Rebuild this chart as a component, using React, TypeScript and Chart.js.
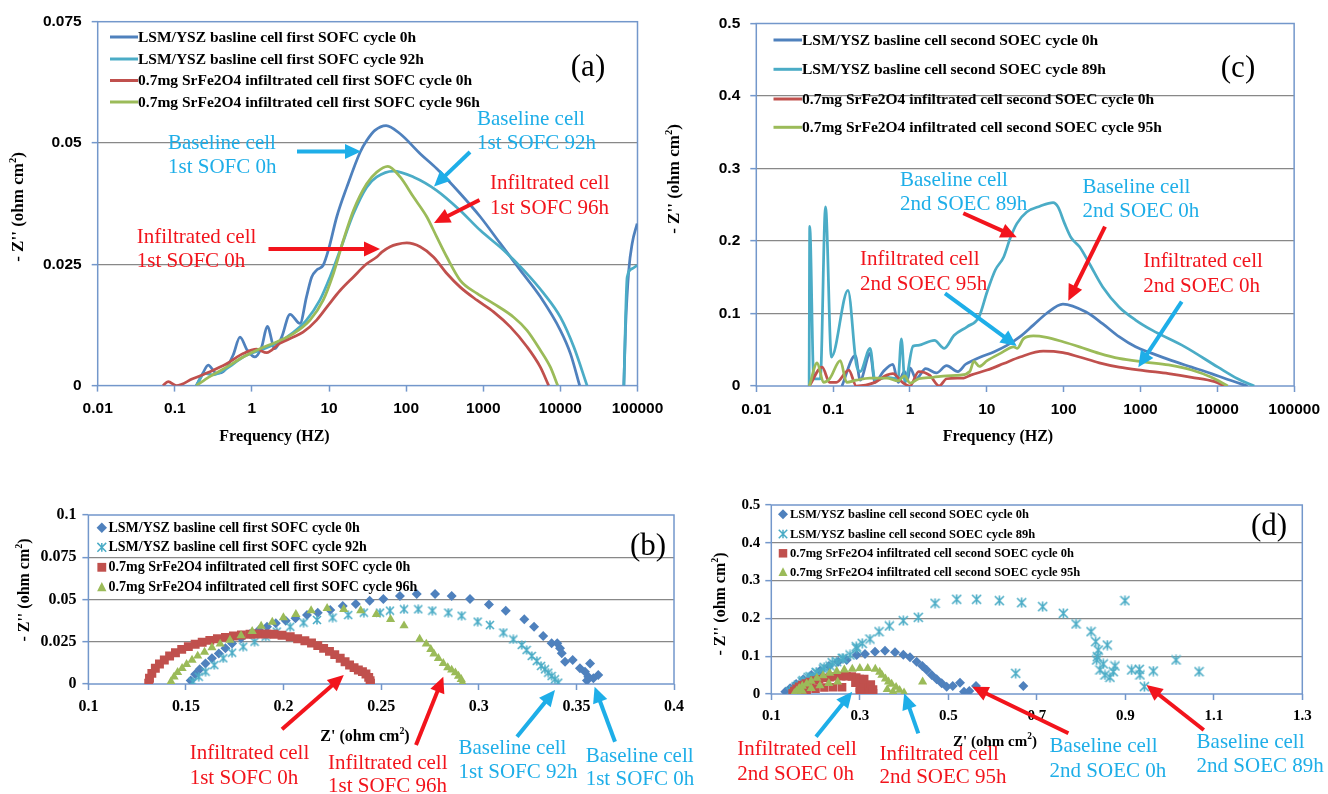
import React, { useEffect, useRef } from 'react';
import { Chart, registerables } from 'chart.js';

Chart.register(...registerables);

const PAGE_W = 1328;
const PAGE_H = 794;

type Pt = [number, number | null];

// ---------------- colours ----------------
const C_BLUE = '#4f81bd';
const C_AQUA = '#4bacc6';
const C_RED = '#c0504d';
const C_GREEN = '#9bbb59';
const SERIES_COLORS = [C_BLUE, C_AQUA, C_RED, C_GREEN];
const ANN_CYAN = '#1eaee8';
const ANN_RED = '#f2141c';
const GRID = '#888888';
const FRAME = '#7397cb';
const SANS = '"Liberation Sans", Arial, sans-serif';
const SERIF = '"Liberation Serif", "Times New Roman", serif';

// ---------------- shared tick data ----------------
const freqTicks = [0.01, 0.1, 1, 10, 100, 1000, 10000, 100000];
const freqTickLabels = ['0.01', '0.1', '1', '10', '100', '1000', '10000', '100000'];

// ---------------- panel (a) ----------------
const aYTicks = [0, 0.025, 0.05, 0.075];
const aYTickLabels = ['0', '0.025', '0.05', '0.075'];
const aLabels = [
  'LSM/YSZ basline cell first SOFC cycle 0h',
  'LSM/YSZ basline cell first SOFC cycle 92h',
  '0.7mg SrFe2O4 infiltrated cell first SOFC cycle 0h',
  '0.7mg SrFe2O4 infiltrated cell first SOFC cycle 96h',
];
const aBase0: Pt[] = [
  [0.19, 0], [0.23, 0.0025], [0.271, 0.0042], [0.347, 0.0025], [0.446, 0.0032], [0.571, 0.0063],
  [0.7, 0.01], [0.87, 0.0073], [1.09, 0.0059], [1.34, 0.008], [1.58, 0.0122], [1.98, 0.0076],
  [2.43, 0.01], [3.12, 0.0147], [4.2, 0.0128], [5.1, 0.0183], [5.96, 0.0224], [6.9, 0.0238],
  [8.4, 0.0248], [9.8, 0.0279], [12.6, 0.0348], [17, 0.0409], [25.3, 0.0481], [30.8, 0.0505],
  [39.3, 0.0526], [55, 0.0536], [83.5, 0.0519], [152, 0.0478], [250, 0.0447], [502, 0.0396],
  [914, 0.0348], [1660, 0.0293], [3020, 0.0238], [5500, 0.0183], [10000, 0.0114], [13500, 0.0066],
  [17800, 0], [40000, null], [66500, 0], [70000, 0.012], [77100, 0.0238], [85300, 0.0293], [99000, 0.0334],
];
const aBase92: Pt[] = [
  [0.19, 0], [0.245, 0.0025], [0.31, 0.0022], [0.47, 0.0035], [0.77, 0.0059], [1.27, 0.0073],
  [2.09, 0.0087], [3.45, 0.011], [5.1, 0.0135], [7.6, 0.0176], [10.3, 0.0224], [13.9, 0.0279],
  [20.7, 0.0354], [30.8, 0.0409], [41.6, 0.043], [68.4, 0.0442], [124, 0.043], [250, 0.0402],
  [502, 0.0361], [914, 0.032], [1840, 0.0279], [3340, 0.0238], [6080, 0.019], [10000, 0.0141],
  [14900, 0.008], [22200, 0], [40000, null], [66500, 0], [73500, 0.0224], [85300, 0.0241], [99000, 0.0248],
];
const aInf0: Pt[] = [
  [0.07, 0], [0.082, 0.0008], [0.105, 0], [0.17, 0.0014], [0.28, 0.0028], [0.47, 0.0045],
  [0.77, 0.0066], [1.15, 0.0075], [1.55, 0.0068], [2.3, 0.0087], [3.45, 0.01], [4.6, 0.011],
  [6.9, 0.0135], [9.8, 0.0166], [13.9, 0.0196], [20.7, 0.0224], [30.8, 0.0251], [41.6, 0.0265],
  [48.3, 0.0275], [62, 0.0286], [75.7, 0.0291], [102, 0.0294], [152, 0.0286], [226, 0.0265],
  [337, 0.0231], [502, 0.0203], [828, 0.0176], [1360, 0.0152], [2240, 0.0121], [3690, 0.008],
  [5500, 0.0038], [7050, 0],
];
const aInf96: Pt[] = [
  [0.19, 0], [0.28, 0.0018], [0.47, 0.0038], [0.77, 0.0059], [1.27, 0.0076], [2.09, 0.009],
  [3.45, 0.0107], [5.66, 0.0135], [8.4, 0.0176], [11.4, 0.0231], [15.3, 0.0299], [20.7, 0.0361],
  [30.8, 0.0416], [41.6, 0.044], [57.8, 0.0452], [83.5, 0.043], [124, 0.0389], [185, 0.0348],
  [250, 0.0306], [337, 0.0265], [502, 0.0217], [828, 0.019], [1360, 0.0169], [2480, 0.0141],
  [3690, 0.0114], [5500, 0.0073], [7420, 0.0038], [9230, 0],
];

// ---------------- panel (c) ----------------
const cYTicks = [0, 0.1, 0.2, 0.3, 0.4, 0.5];
const cYTickLabels = ['0', '0.1', '0.2', '0.3', '0.4', '0.5'];
const cLabels = [
  'LSM/YSZ basline cell second SOEC cycle 0h',
  'LSM/YSZ basline cell second SOEC cycle 89h',
  '0.7mg SrFe2O4 infiltrated cell second SOEC cycle 0h',
  '0.7mg SrFe2O4 infiltrated cell second SOEC cycle 95h',
];
const cBase0: Pt[] = [
  [0.13, 0], [0.194, 0.042], [0.225, 0.008], [0.303, 0.045], [0.35, 0.005], [0.45, 0.02],
  [0.6, 0.03], [0.7, 0.005], [0.85, 0.02], [0.94, 0.01], [1.0, 0.025], [1.2, 0.01], [1.6, 0.024],
  [2.2, 0.018], [3.0, 0.028], [4.2, 0.02], [5.3, 0.03], [6.5, 0.035], [8.3, 0.04], [12.3, 0.047],
  [18.3, 0.056], [27.1, 0.068], [40.3, 0.084], [59.8, 0.1], [98, 0.113], [196, 0.102], [321, 0.086],
  [526, 0.068], [863, 0.054], [1414, 0.045], [2560, 0.035], [4630, 0.026], [8370, 0.017],
  [13700, 0.009], [24800, 0],
];
const cBase89: Pt[] = [
  [0.0487, 0], [0.0496, 0.22], [0.056, 0.01], [0.068, 0.01], [0.0796, 0.247], [0.095, 0.04],
  [0.156, 0.132], [0.2, 0.03], [0.225, 0.02], [0.303, 0.052], [0.35, 0.008], [0.5, 0.012],
  [0.7, 0.01], [0.773, 0.065], [0.86, 0.005], [1.1, 0.055], [1.27, 0.056], [2.08, 0.063],
  [2.79, 0.052], [3.76, 0.07], [5.58, 0.082], [7.89, 0.095], [10.1, 0.13], [12.9, 0.16],
  [16.6, 0.178], [20.2, 0.204], [24.6, 0.224], [33.1, 0.24], [49.1, 0.248], [72.9, 0.253],
  [84.5, 0.247], [103, 0.224], [126, 0.204], [161, 0.192], [216, 0.169], [321, 0.137],
  [526, 0.109], [863, 0.091], [1414, 0.077], [3790, 0.054], [10200, 0.026], [18400, 0.01], [30300, 0],
];
const cInf0: Pt[] = [
  [0.049, 0], [0.072, 0.026], [0.09, 0.005], [0.11, 0.005], [0.16, 0.022], [0.2, 0], [0.35, 0.005],
  [0.5, 0.015], [0.6, 0.017], [0.8, 0.005], [1.0, 0], [1.3, 0.02], [1.8, 0.015], [2.4, 0],
  [3, 0.01], [5, 0.011], [6.16, 0.015], [10.1, 0.022], [16.6, 0.031], [27.1, 0.04], [54.2, 0.048],
  [98, 0.046], [161, 0.04], [291, 0.032], [526, 0.026], [1160, 0.021], [2320, 0.017], [4630, 0.012],
  [9250, 0.006], [12400, 0],
];
const cInf95: Pt[] = [
  [0.049, 0], [0.062, 0.032], [0.075, 0.005], [0.09, 0.01], [0.124, 0.035], [0.15, 0.005],
  [0.2, 0.008], [0.3, 0.011], [0.5, 0.011], [0.7, 0.007], [0.85, 0.014], [1.0, 0.004], [1.3, 0.01],
  [2, 0.012], [3, 0.014], [4.5, 0.015], [6, 0.02], [6.8, 0.034], [8, 0.027], [10.1, 0.035],
  [15, 0.045], [22.4, 0.054], [25, 0.052], [29.9, 0.065], [40.3, 0.069], [59.8, 0.067], [98, 0.061],
  [161, 0.054], [291, 0.045], [526, 0.038], [1160, 0.033], [2320, 0.029], [4630, 0.022],
  [8370, 0.012], [13700, 0],
];

// ---------------- panel (b) ----------------
const bXTicks = [0.1, 0.15, 0.2, 0.25, 0.3, 0.35, 0.4];
const bXTickLabels = ['0.1', '0.15', '0.2', '0.25', '0.3', '0.35', '0.4'];
const bYTicks = [0, 0.025, 0.05, 0.075, 0.1];
const bYTickLabels = ['0', '0.025', '0.05', '0.075', '0.1'];
const bBase0: Pt[] = [
  [0.1524, 0.002], [0.1547, 0.0057], [0.157, 0.0087], [0.16, 0.0122], [0.1633, 0.0152], [0.1668, 0.0181],
  [0.1702, 0.0211], [0.1736, 0.024], [0.1782, 0.027], [0.1828, 0.0296], [0.1874, 0.032], [0.1915, 0.0339],
  [0.196, 0.0359], [0.2011, 0.0375], [0.2061, 0.0389], [0.212, 0.0408], [0.2175, 0.0422], [0.2239, 0.0438],
  [0.2303, 0.0462], [0.237, 0.0473], [0.2441, 0.0493], [0.2511, 0.0503], [0.2596, 0.0521], [0.2682, 0.0533],
  [0.2776, 0.0533], [0.2861, 0.0521], [0.2955, 0.0503], [0.3052, 0.0471], [0.3138, 0.0434], [0.3233, 0.0383],
  [0.3283, 0.0339], [0.333, 0.0284], [0.3373, 0.0241], [0.3402, 0.0241], [0.3416, 0.0211], [0.3425, 0.0182],
  [0.3442, 0.0132], [0.3481, 0.0142], [0.3518, 0.0093], [0.3544, 0.0073], [0.357, 0.0122], [0.3587, 0.0034],
  [0.3612, 0.0053], [0.3561, 0.0043], [0.3554, 0.002],
];
const bBase92: Pt[] = [
  [0.1535, 0.0014], [0.1565, 0.0043], [0.16, 0.0073], [0.1645, 0.0112], [0.1691, 0.0152], [0.1736, 0.0185],
  [0.1793, 0.0221], [0.1851, 0.025], [0.1908, 0.028], [0.1965, 0.031], [0.2034, 0.0339], [0.2102, 0.0363],
  [0.2171, 0.0379], [0.2251, 0.0393], [0.2331, 0.0408], [0.2411, 0.0422], [0.2494, 0.0422], [0.2545, 0.0434],
  [0.2617, 0.0442], [0.269, 0.0442], [0.2762, 0.0434], [0.2844, 0.0422], [0.2912, 0.0404], [0.2994, 0.0369],
  [0.3057, 0.0349], [0.3126, 0.0304], [0.3177, 0.0264], [0.322, 0.0231], [0.3245, 0.0201], [0.3271, 0.0166],
  [0.3297, 0.0136], [0.3319, 0.0107], [0.3339, 0.0087], [0.3356, 0.0067], [0.3373, 0.0047], [0.339, 0.0028],
  [0.3407, 0.0008],
];
const bInf0: Pt[] = [
  [0.1309, 0.0004], [0.1313, 0.0034], [0.1325, 0.0063], [0.1343, 0.0093], [0.1364, 0.0118], [0.1389, 0.0142],
  [0.1416, 0.0166], [0.1446, 0.0185], [0.1478, 0.0205], [0.1512, 0.0221], [0.1547, 0.0235], [0.1583, 0.0247],
  [0.1622, 0.0258], [0.1661, 0.0268], [0.1702, 0.0276], [0.1743, 0.0284], [0.1784, 0.029], [0.1828, 0.0294],
  [0.1869, 0.0296], [0.191, 0.0296], [0.1951, 0.0294], [0.1992, 0.0288], [0.2034, 0.028], [0.2072, 0.0268],
  [0.2109, 0.0256], [0.2143, 0.0243], [0.2175, 0.0227], [0.2205, 0.0211], [0.2235, 0.0193], [0.2262, 0.0174],
  [0.229, 0.0152], [0.2315, 0.0132], [0.2338, 0.0112], [0.2361, 0.0097], [0.2383, 0.0083], [0.2404, 0.0073],
  [0.2422, 0.0059], [0.2436, 0.0039], [0.2443, 0.002], [0.2445, 0.0004],
];
const bInf96: Pt[] = [
  [0.1423, 0.0014], [0.1439, 0.0043], [0.1457, 0.0069], [0.148, 0.0093], [0.1503, 0.0116], [0.1531, 0.0142],
  [0.156, 0.0166], [0.1595, 0.0189], [0.1633, 0.0215], [0.1675, 0.0237], [0.1725, 0.026], [0.1782, 0.0286],
  [0.1839, 0.0312], [0.1885, 0.0343], [0.1942, 0.0367], [0.1999, 0.0393], [0.2063, 0.0412], [0.2141, 0.0434],
  [0.2223, 0.0448], [0.2308, 0.0442], [0.2395, 0.0434], [0.2475, 0.0412], [0.2548, 0.0383], [0.2617, 0.0345],
  [0.2697, 0.0266], [0.2731, 0.0237], [0.2754, 0.0205], [0.277, 0.0178], [0.2793, 0.0152], [0.2818, 0.0122],
  [0.2841, 0.0097], [0.2861, 0.0083], [0.288, 0.0067], [0.2896, 0.0047], [0.291, 0.0028], [0.2916, 0.0008],
];

// ---------------- panel (d) ----------------
const dXTicks = [0.1, 0.3, 0.5, 0.7, 0.9, 1.1, 1.3];
const dXTickLabels = ['0.1', '0.3', '0.5', '0.7', '0.9', '1.1', '1.3'];
const dYTicks = [0, 0.1, 0.2, 0.3, 0.4, 0.5];
const dYTickLabels = ['0', '0.1', '0.2', '0.3', '0.4', '0.5'];
const dBase0: Pt[] = [
  [0.1317, 0.0062], [0.1425, 0.015], [0.1561, 0.0265], [0.1724, 0.0388], [0.1905, 0.0503], [0.2104, 0.0617],
  [0.2303, 0.0741], [0.2511, 0.0855], [0.2704, 0.09], [0.293, 0.1032], [0.3117, 0.1058], [0.3343, 0.1119],
  [0.357, 0.1146], [0.3795, 0.1102], [0.3983, 0.104], [0.4134, 0.097], [0.4286, 0.0855], [0.4413, 0.0741],
  [0.4512, 0.0635], [0.4625, 0.0503], [0.4738, 0.0388], [0.4851, 0.0282], [0.4964, 0.0194], [0.51, 0.0212],
  [0.5264, 0.03], [0.5355, 0.0062], [0.5475, 0.008], [0.5626, 0.0212], [0.6695, 0.0212],
];
const dBase89: Pt[] = [
  [0.1425, 0.0062], [0.1497, 0.0106], [0.1561, 0.0194], [0.161, 0.0238], [0.1697, 0.0326], [0.1723, 0.0353],
  [0.1833, 0.0441], [0.1875, 0.0459], [0.2014, 0.0564], [0.2026, 0.0564], [0.2175, 0.0661], [0.2195, 0.0705],
  [0.2327, 0.0741], [0.2376, 0.0829], [0.2478, 0.0855], [0.2602, 0.0944], [0.2627, 0.0944], [0.2779, 0.1032],
  [0.2919, 0.1252], [0.293, 0.1208], [0.3054, 0.134], [0.323, 0.1455], [0.3434, 0.1648], [0.3667, 0.1799],
  [0.3983, 0.194], [0.4322, 0.2028], [0.47, 0.24], [0.519, 0.2505], [0.564, 0.2505], [0.6153, 0.2469],
  [0.6658, 0.2416], [0.7133, 0.231], [0.76, 0.2134], [0.7886, 0.1852], [0.8225, 0.1648], [0.8331, 0.1384],
  [0.839, 0.1164], [0.8593, 0.1296], [0.8367, 0.0987], [0.8353, 0.09], [0.8428, 0.0635], [0.8503, 0.0794],
  [0.8541, 0.0503], [0.8654, 0.0441], [0.8729, 0.059], [0.8767, 0.0741], [0.8993, 0.2469], [0.9144, 0.0635],
  [0.9316, 0.0653], [0.9332, 0.0503], [0.943, 0.0194], [0.9633, 0.0608], [1.0146, 0.09], [1.0666, 0.059],
  [0.6523, 0.0547],
];
const dInf0: Pt[] = [
  [0.148, 0.002], [0.152, 0.008], [0.157, 0.014], [0.163, 0.019], [0.17, 0.024], [0.178, 0.028], [0.187, 0.032],
  [0.197, 0.036], [0.208, 0.039], [0.22, 0.042], [0.232, 0.044], [0.245, 0.046], [0.258, 0.047], [0.27, 0.047],
  [0.282, 0.046], [0.292, 0.044], [0.3, 0.04], [0.305, 0.034], [0.308, 0.028], [0.31, 0.022], [0.312, 0.016],
  [0.315, 0.01], [0.318, 0.005], [0.322, 0.001], [0.3, 0.015], [0.3, 0.005], [0.31, 0.04], [0.325, 0.025],
  [0.33, 0.012], [0.33, 0.002], [0.29, 0.03], [0.165, 0.006], [0.18, 0.01], [0.2, 0.014], [0.22, 0.017],
  [0.24, 0.018], [0.26, 0.018],
];
const dInf95: Pt[] = [
  [0.152, 0.002], [0.157, 0.008], [0.163, 0.015], [0.17, 0.021], [0.18, 0.027], [0.19, 0.034], [0.203, 0.042],
  [0.217, 0.049], [0.232, 0.055], [0.248, 0.06], [0.265, 0.064], [0.283, 0.066], [0.3, 0.068], [0.318, 0.068],
  [0.335, 0.066], [0.345, 0.058], [0.35, 0.05], [0.358, 0.04], [0.365, 0.032], [0.372, 0.026], [0.382, 0.018],
  [0.39, 0.01], [0.4, 0.003], [0.362, 0.012], [0.375, 0.006], [0.442, 0.032], [0.17, 0.008], [0.19, 0.015],
  [0.21, 0.022], [0.23, 0.028], [0.25, 0.032],
];

// ---------------- helpers ----------------
type Note = { lines: string[]; x: number; ys: number[]; color: string; arrow: number[]; arrowColor: string };
type RichPart = [string, boolean];
type Decor = {
  legend: { kind: 'line' | 'marker'; x0: number; x1: number; tx: number; ys: number[]; size: number; styles?: string[]; msize?: number };
  tag: { text: string; x: number; y: number };
  xTitle: { parts: RichPart[]; x: number; y: number; size: number };
  yTitle: { parts: RichPart[]; x: number; y: number; size: number };
  notes: Note[];
};

function drawArrow(ctx: CanvasRenderingContext2D, a: number[], color: string) {
  const [x1, y1, x2, y2] = a;
  const ang = Math.atan2(y2 - y1, x2 - x1);
  const hl = 16;
  const hw = 7.5;
  const bx = x2 - hl * Math.cos(ang);
  const by = y2 - hl * Math.sin(ang);
  ctx.strokeStyle = color;
  ctx.fillStyle = color;
  ctx.lineWidth = 4;
  ctx.beginPath();
  ctx.moveTo(x1, y1);
  ctx.lineTo(bx + Math.cos(ang), by + Math.sin(ang));
  ctx.stroke();
  ctx.beginPath();
  ctx.moveTo(x2, y2);
  ctx.lineTo(bx + hw * Math.sin(ang), by - hw * Math.cos(ang));
  ctx.lineTo(bx - hw * Math.sin(ang), by + hw * Math.cos(ang));
  ctx.closePath();
  ctx.fill();
}

function drawRich(ctx: CanvasRenderingContext2D, parts: RichPart[], x: number, y: number, size: number) {
  const widths: number[] = [];
  let total = 0;
  parts.forEach(([t, sup]) => {
    ctx.font = `bold ${sup ? size * 0.62 : size}px ${SERIF}`;
    const w = ctx.measureText(t).width;
    widths.push(w);
    total += w;
  });
  let cx = x - total / 2;
  ctx.textAlign = 'left';
  ctx.textBaseline = 'middle';
  parts.forEach(([t, sup], i) => {
    ctx.font = `bold ${sup ? size * 0.62 : size}px ${SERIF}`;
    ctx.fillText(t, cx, sup ? y - size * 0.33 : y);
    cx += widths[i];
  });
}

function drawMarker(ctx: CanvasRenderingContext2D, kind: string, x: number, y: number, r: number, color: string) {
  ctx.fillStyle = color;
  ctx.strokeStyle = color;
  ctx.beginPath();
  if (kind === 'diamond') {
    ctx.moveTo(x - r, y); ctx.lineTo(x, y - r); ctx.lineTo(x + r, y); ctx.lineTo(x, y + r); ctx.closePath(); ctx.fill();
  } else if (kind === 'square') {
    ctx.rect(x - r * 0.85, y - r * 0.85, 1.7 * r, 1.7 * r); ctx.fill();
  } else if (kind === 'triangle') {
    ctx.moveTo(x, y - r); ctx.lineTo(x + r * 0.9, y + r * 0.75); ctx.lineTo(x - r * 0.9, y + r * 0.75); ctx.closePath(); ctx.fill();
  } else {
    ctx.lineWidth = 1.5;
    const s = r * 0.85;
    ctx.moveTo(x - s, y - s); ctx.lineTo(x + s, y + s);
    ctx.moveTo(x + s, y - s); ctx.lineTo(x - s, y + s);
    ctx.moveTo(x, y - s); ctx.lineTo(x, y + s);
    ctx.stroke();
  }
}

function makeStar(size: number, color: string) {
  const c = document.createElement('canvas');
  c.width = size;
  c.height = size;
  const g = c.getContext('2d')!;
  g.strokeStyle = color;
  g.lineWidth = 1.6;
  g.beginPath();
  g.moveTo(1, 1); g.lineTo(size - 1, size - 1);
  g.moveTo(size - 1, 1); g.lineTo(1, size - 1);
  g.moveTo(size / 2, 0.5); g.lineTo(size / 2, size - 0.5);
  g.stroke();
  return c;
}

function decorPlugin(d: Decor) {
  return {
    id: 'decor',
    beforeDatasetsDraw(chart: any) {
      const { ctx, chartArea: a } = chart;
      ctx.save();
      ctx.strokeStyle = FRAME;
      ctx.lineWidth = 1.5;
      ctx.strokeRect(a.left, a.top, a.right - a.left, a.bottom - a.top);
      ctx.restore();
    },
    afterDatasetsDraw(chart: any) {
      const ctx: CanvasRenderingContext2D = chart.ctx;
      ctx.save();
      const lg = d.legend;
      chart.data.datasets.forEach((ds: any, i: number) => {
        const y = lg.ys[i];
        if (lg.kind === 'line') {
          ctx.strokeStyle = SERIES_COLORS[i];
          ctx.lineWidth = 3;
          ctx.beginPath();
          ctx.moveTo(lg.x0, y);
          ctx.lineTo(lg.x1, y);
          ctx.stroke();
        } else {
          drawMarker(ctx, lg.styles![i], lg.x0, y, lg.msize!, SERIES_COLORS[i]);
        }
        ctx.fillStyle = '#000';
        ctx.font = `bold ${lg.size}px ${SERIF}`;
        ctx.textAlign = 'left';
        ctx.textBaseline = 'middle';
        ctx.fillText(ds.label, lg.tx, y + 0.5);
      });
      // panel tag
      ctx.fillStyle = '#000';
      ctx.font = `31px ${SERIF}`;
      ctx.textAlign = 'center';
      ctx.textBaseline = 'middle';
      ctx.fillText(d.tag.text, d.tag.x, d.tag.y);
      // axis titles
      ctx.fillStyle = '#000';
      drawRich(ctx, d.xTitle.parts, d.xTitle.x, d.xTitle.y, d.xTitle.size);
      ctx.save();
      ctx.translate(d.yTitle.x, d.yTitle.y);
      ctx.rotate(-Math.PI / 2);
      drawRich(ctx, d.yTitle.parts, 0, 0, d.yTitle.size);
      ctx.restore();
      // annotations
      d.notes.forEach((n) => {
        ctx.fillStyle = n.color;
        ctx.font = `21px ${SERIF}`;
        ctx.textAlign = 'left';
        ctx.textBaseline = 'middle';
        n.lines.forEach((t, k) => ctx.fillText(t, n.x, n.ys[k]));
        drawArrow(ctx, n.arrow, n.arrowColor);
      });
      ctx.restore();
    },
  };
}

const Y_TITLE: RichPart[] = [["- Z'' (ohm cm", false], ['2', true], [')', false]];
const X_TITLE_Z: RichPart[] = [["Z' (ohm cm", false], ['2', true], [')', false]];
const X_TITLE_F: RichPart[] = [['Frequency (HZ)', false]];

type Area = { L: number; T: number; R: number; B: number };

function scalesFor(area: Area, opts: any) {
  const yW = 60;
  const xT = opts.xTicks as number[];
  const xL = opts.xLabels as string[];
  const yT = opts.yTicks as number[];
  const yL = opts.yLabels as string[];
  const yMax = yT[yT.length - 1];
  const tickFont = { family: opts.tickFamily, size: opts.tickSize, weight: 'bold' as const };
  return {
    layout: { padding: { left: area.L - yW, top: area.T, right: PAGE_W - area.R, bottom: 0 } },
    scales: {
      x: {
        type: opts.xType,
        min: xT[0],
        max: xT[xT.length - 1],
        afterBuildTicks: (s: any) => { s.ticks = xT.map((v) => ({ value: v })); },
        afterFit: (s: any) => { s.height = PAGE_H - area.B; },
        ticks: {
          autoSkip: false, maxRotation: 0, minRotation: 0, color: '#000', font: tickFont,
          padding: opts.xPad,
          callback: (_v: any, i: number) => xL[i],
        },
        grid: { drawOnChartArea: false, drawTicks: true, tickLength: 6, tickColor: FRAME, tickWidth: 1.5 },
        border: { display: false },
      },
      y: {
        type: 'linear',
        min: 0,
        max: yMax,
        afterBuildTicks: (s: any) => { s.ticks = yT.map((v) => ({ value: v })); },
        afterFit: (s: any) => { s.width = yW; },
        ticks: { color: '#000', font: tickFont, padding: opts.yPad, callback: (_v: any, i: number) => yL[i] },
        grid: {
          color: (c: any) => (c.tick && c.tick.value > 0 && c.tick.value < yMax - 1e-9 ? GRID : 'rgba(0,0,0,0)'),
          lineWidth: 1.3,
          drawTicks: true,
          tickLength: 6,
          tickColor: FRAME,
          tickWidth: 1.5,
        },
        border: { display: false },
      },
    },
  };
}

function lineConfig(area: Area, labels: string[], series: Pt[][], axis: any, decor: Decor) {
  const sc = scalesFor(area, axis);
  return {
    type: 'line',
    data: {
      datasets: series.map((s, i) => ({
        label: labels[i],
        data: s.map(([x, y]) => ({ x, y })),
        borderColor: SERIES_COLORS[i],
        backgroundColor: SERIES_COLORS[i],
        borderWidth: 2.75,
        pointRadius: 0,
        pointHoverRadius: 0,
        fill: false,
        cubicInterpolationMode: 'monotone',
        spanGaps: false,
        order: 3 - i,
      })),
    },
    options: {
      responsive: false,
      animation: false,
      devicePixelRatio: 1,
      events: [],
      layout: sc.layout,
      plugins: { legend: { display: false }, tooltip: { enabled: false }, title: { display: false } },
      scales: sc.scales,
    },
    plugins: [decorPlugin(decor)],
  };
}

function scatterConfig(area: Area, labels: string[], series: Pt[][], styles: any[], radii: number[], axis: any, decor: Decor) {
  const sc = scalesFor(area, axis);
  return {
    type: 'scatter',
    data: {
      datasets: series.map((s, i) => ({
        label: labels[i],
        data: s.map(([x, y]) => ({ x, y })),
        backgroundColor: SERIES_COLORS[i],
        borderColor: SERIES_COLORS[i],
        borderWidth: 0,
        pointStyle: styles[i],
        pointRadius: radii[i],
        pointHoverRadius: radii[i],
        order: 3 - i,
      })),
    },
    options: {
      responsive: false,
      animation: false,
      devicePixelRatio: 1,
      events: [],
      layout: sc.layout,
      plugins: { legend: { display: false }, tooltip: { enabled: false }, title: { display: false } },
      scales: sc.scales,
    },
    plugins: [decorPlugin(decor)],
  };
}

function buildConfigs() {
  const decorA: Decor = {
    legend: { kind: 'line', x0: 110, x1: 138, tx: 138, ys: [37, 59, 80.5, 102], size: 15.5 },
    tag: { text: '(a)', x: 588, y: 68 },
    xTitle: { parts: X_TITLE_F, x: 274.5, y: 437, size: 16 },
    yTitle: { parts: Y_TITLE, x: 19, y: 207, size: 17 },
    notes: [
      { lines: ['Baseline cell', '1st SOFC 0h'], x: 168, ys: [143, 167], color: ANN_CYAN, arrow: [297, 151.5, 361, 151.5], arrowColor: ANN_CYAN },
      { lines: ['Baseline cell', '1st SOFC 92h'], x: 477, ys: [119.5, 143.5], color: ANN_CYAN, arrow: [470, 152, 434, 186.5], arrowColor: ANN_CYAN },
      { lines: ['Infiltrated cell', '1st SOFC 96h'], x: 490, ys: [183.5, 208.5], color: ANN_RED, arrow: [479.5, 200, 434, 223], arrowColor: ANN_RED },
      { lines: ['Infiltrated cell', '1st SOFC 0h'], x: 136.8, ys: [237.5, 261.5], color: ANN_RED, arrow: [268.5, 249, 380, 249], arrowColor: ANN_RED },
    ],
  };
  const decorC: Decor = {
    legend: { kind: 'line', x0: 773.5, x1: 802, tx: 802, ys: [40, 69.3, 99, 127.3], size: 15.5 },
    tag: { text: '(c)', x: 1238, y: 69 },
    xTitle: { parts: X_TITLE_F, x: 998, y: 437, size: 16 },
    yTitle: { parts: Y_TITLE, x: 675, y: 179, size: 17 },
    notes: [
      { lines: ['Baseline cell', '2nd SOEC 89h'], x: 900, ys: [180.5, 204.5], color: ANN_CYAN, arrow: [963.3, 213.3, 1016.7, 237.3], arrowColor: ANN_RED },
      { lines: ['Baseline cell', '2nd SOEC 0h'], x: 1082.5, ys: [187.5, 211.7], color: ANN_CYAN, arrow: [1105, 226.7, 1068.3, 300.7], arrowColor: ANN_RED },
      { lines: ['Infiltrated cell', '2nd SOEC 95h'], x: 860, ys: [259.5, 284], color: ANN_RED, arrow: [945, 293.3, 1016.7, 346], arrowColor: ANN_CYAN },
      { lines: ['Infiltrated cell', '2nd SOEC 0h'], x: 1143.3, ys: [261.7, 286], color: ANN_RED, arrow: [1181.7, 301.7, 1138.3, 367.3], arrowColor: ANN_CYAN },
    ],
  };
  const decorB: Decor = {
    legend: { kind: 'marker', x0: 101.8, x1: 0, tx: 108.5, ys: [527.7, 547.3, 567.3, 587.3], size: 14, styles: ['diamond', 'star', 'square', 'triangle'], msize: 5.2 },
    tag: { text: '(b)', x: 648, y: 547 },
    xTitle: { parts: X_TITLE_Z, x: 365, y: 737, size: 16 },
    yTitle: { parts: Y_TITLE, x: 25, y: 590, size: 16 },
    notes: [
      { lines: ['Infiltrated cell', '1st SOFC 0h'], x: 189.7, ys: [753.3, 778.3], color: ANN_RED, arrow: [282, 729.3, 343.8, 675], arrowColor: ANN_RED },
      { lines: ['Infiltrated cell', '1st SOFC 96h'], x: 328, ys: [763, 786.7], color: ANN_RED, arrow: [416, 745, 443.3, 676.7], arrowColor: ANN_RED },
      { lines: ['Baseline cell', '1st SOFC 92h'], x: 458.5, ys: [748.3, 772.7], color: ANN_CYAN, arrow: [517, 736.7, 555, 690], arrowColor: ANN_CYAN },
      { lines: ['Baseline cell', '1st SOFC 0h'], x: 585.7, ys: [756.7, 779.3], color: ANN_CYAN, arrow: [615, 741.7, 594.6, 686.7], arrowColor: ANN_CYAN },
    ],
  };
  const decorD: Decor = {
    legend: { kind: 'marker', x0: 783, x1: 0, tx: 790, ys: [514.3, 534, 553.3, 572.3], size: 12.5, styles: ['diamond', 'star', 'square', 'triangle'], msize: 5 },
    tag: { text: '(d)', x: 1269, y: 527 },
    xTitle: { parts: X_TITLE_Z, x: 995, y: 742, size: 15 },
    yTitle: { parts: Y_TITLE, x: 720.5, y: 604, size: 16 },
    notes: [
      { lines: ['Infiltrated cell', '2nd SOEC 0h'], x: 737.2, ys: [749.3, 774], color: ANN_RED, arrow: [816, 736.7, 852.2, 691.7], arrowColor: ANN_CYAN },
      { lines: ['Infiltrated cell', '2nd SOEC 95h'], x: 879.4, ys: [754, 777.7], color: ANN_RED, arrow: [918.3, 733.3, 904.2, 693.3], arrowColor: ANN_CYAN },
      { lines: ['Baseline cell', '2nd SOEC 0h'], x: 1049.6, ys: [746.7, 771.7], color: ANN_CYAN, arrow: [1068.4, 733.3, 972.3, 686.7], arrowColor: ANN_RED },
      { lines: ['Baseline cell', '2nd SOEC 89h'], x: 1196.6, ys: [742.3, 766.7], color: ANN_CYAN, arrow: [1203.8, 730, 1146.5, 685], arrowColor: ANN_RED },
    ],
  };

  const axA = { xType: 'logarithmic', xTicks: freqTicks, xLabels: freqTickLabels, yTicks: aYTicks, yLabels: aYTickLabels, tickFamily: SANS, tickSize: 15.5, xPad: 8, yPad: 10 };
  const axC = { xType: 'logarithmic', xTicks: freqTicks, xLabels: freqTickLabels, yTicks: cYTicks, yLabels: cYTickLabels, tickFamily: SANS, tickSize: 15.5, xPad: 8, yPad: 10 };
  const axB = { xType: 'linear', xTicks: bXTicks, xLabels: bXTickLabels, yTicks: bYTicks, yLabels: bYTickLabels, tickFamily: SERIF, tickSize: 16, xPad: 7, yPad: 6 };
  const axD = { xType: 'linear', xTicks: dXTicks, xLabels: dXTickLabels, yTicks: dYTicks, yLabels: dYTickLabels, tickFamily: SERIF, tickSize: 15, xPad: 7, yPad: 5 };

  const starB = makeStar(10, C_AQUA);
  const starD = makeStar(11, C_AQUA);

  return [
    lineConfig({ L: 97.7, T: 21.7, R: 637.5, B: 385.6 }, aLabels, [aBase0, aBase92, aInf0, aInf96], axA, decorA),
    lineConfig({ L: 756.3, T: 23.5, R: 1300.5, B: 386 }, cLabels, [cBase0, cBase89, cInf0, cInf95], axC, decorC),
    scatterConfig({ L: 88.4, T: 515, R: 674, B: 684 }, aLabels, [bBase0, bBase92, bInf0, bInf96],
      ['rectRot', starB, 'rect', 'triangle'], [5, 5, 6.3, 5.3], axB, decorB),
    scatterConfig({ L: 771.3, T: 505, R: 1302.3, B: 694 }, cLabels, [dBase0, dBase89, dInf0, dInf95],
      ['rectRot', starD, 'rect', 'triangle'], [5, 5.5, 6, 5.3], axD, decorD),
  ];
}

export default function App() {
  const r0 = useRef<HTMLCanvasElement>(null);
  const r1 = useRef<HTMLCanvasElement>(null);
  const r2 = useRef<HTMLCanvasElement>(null);
  const r3 = useRef<HTMLCanvasElement>(null);
  const refs = [r0, r1, r2, r3];

  useEffect(() => {
    const cfgs = buildConfigs();
    const charts = cfgs.map((cfg, i) => new Chart(refs[i].current as HTMLCanvasElement, cfg as any));
    return () => charts.forEach((c) => c.destroy());
  }, []);

  return (
    <div style={{ position: 'absolute', left: 0, top: 0, width: PAGE_W, height: PAGE_H, background: '#fff', overflow: 'hidden' }}>
      {refs.map((r, i) => (
        <canvas key={i} ref={r} width={PAGE_W} height={PAGE_H}
          style={{ position: 'absolute', left: 0, top: 0, width: PAGE_W, height: PAGE_H }} />
      ))}
    </div>
  );
}
